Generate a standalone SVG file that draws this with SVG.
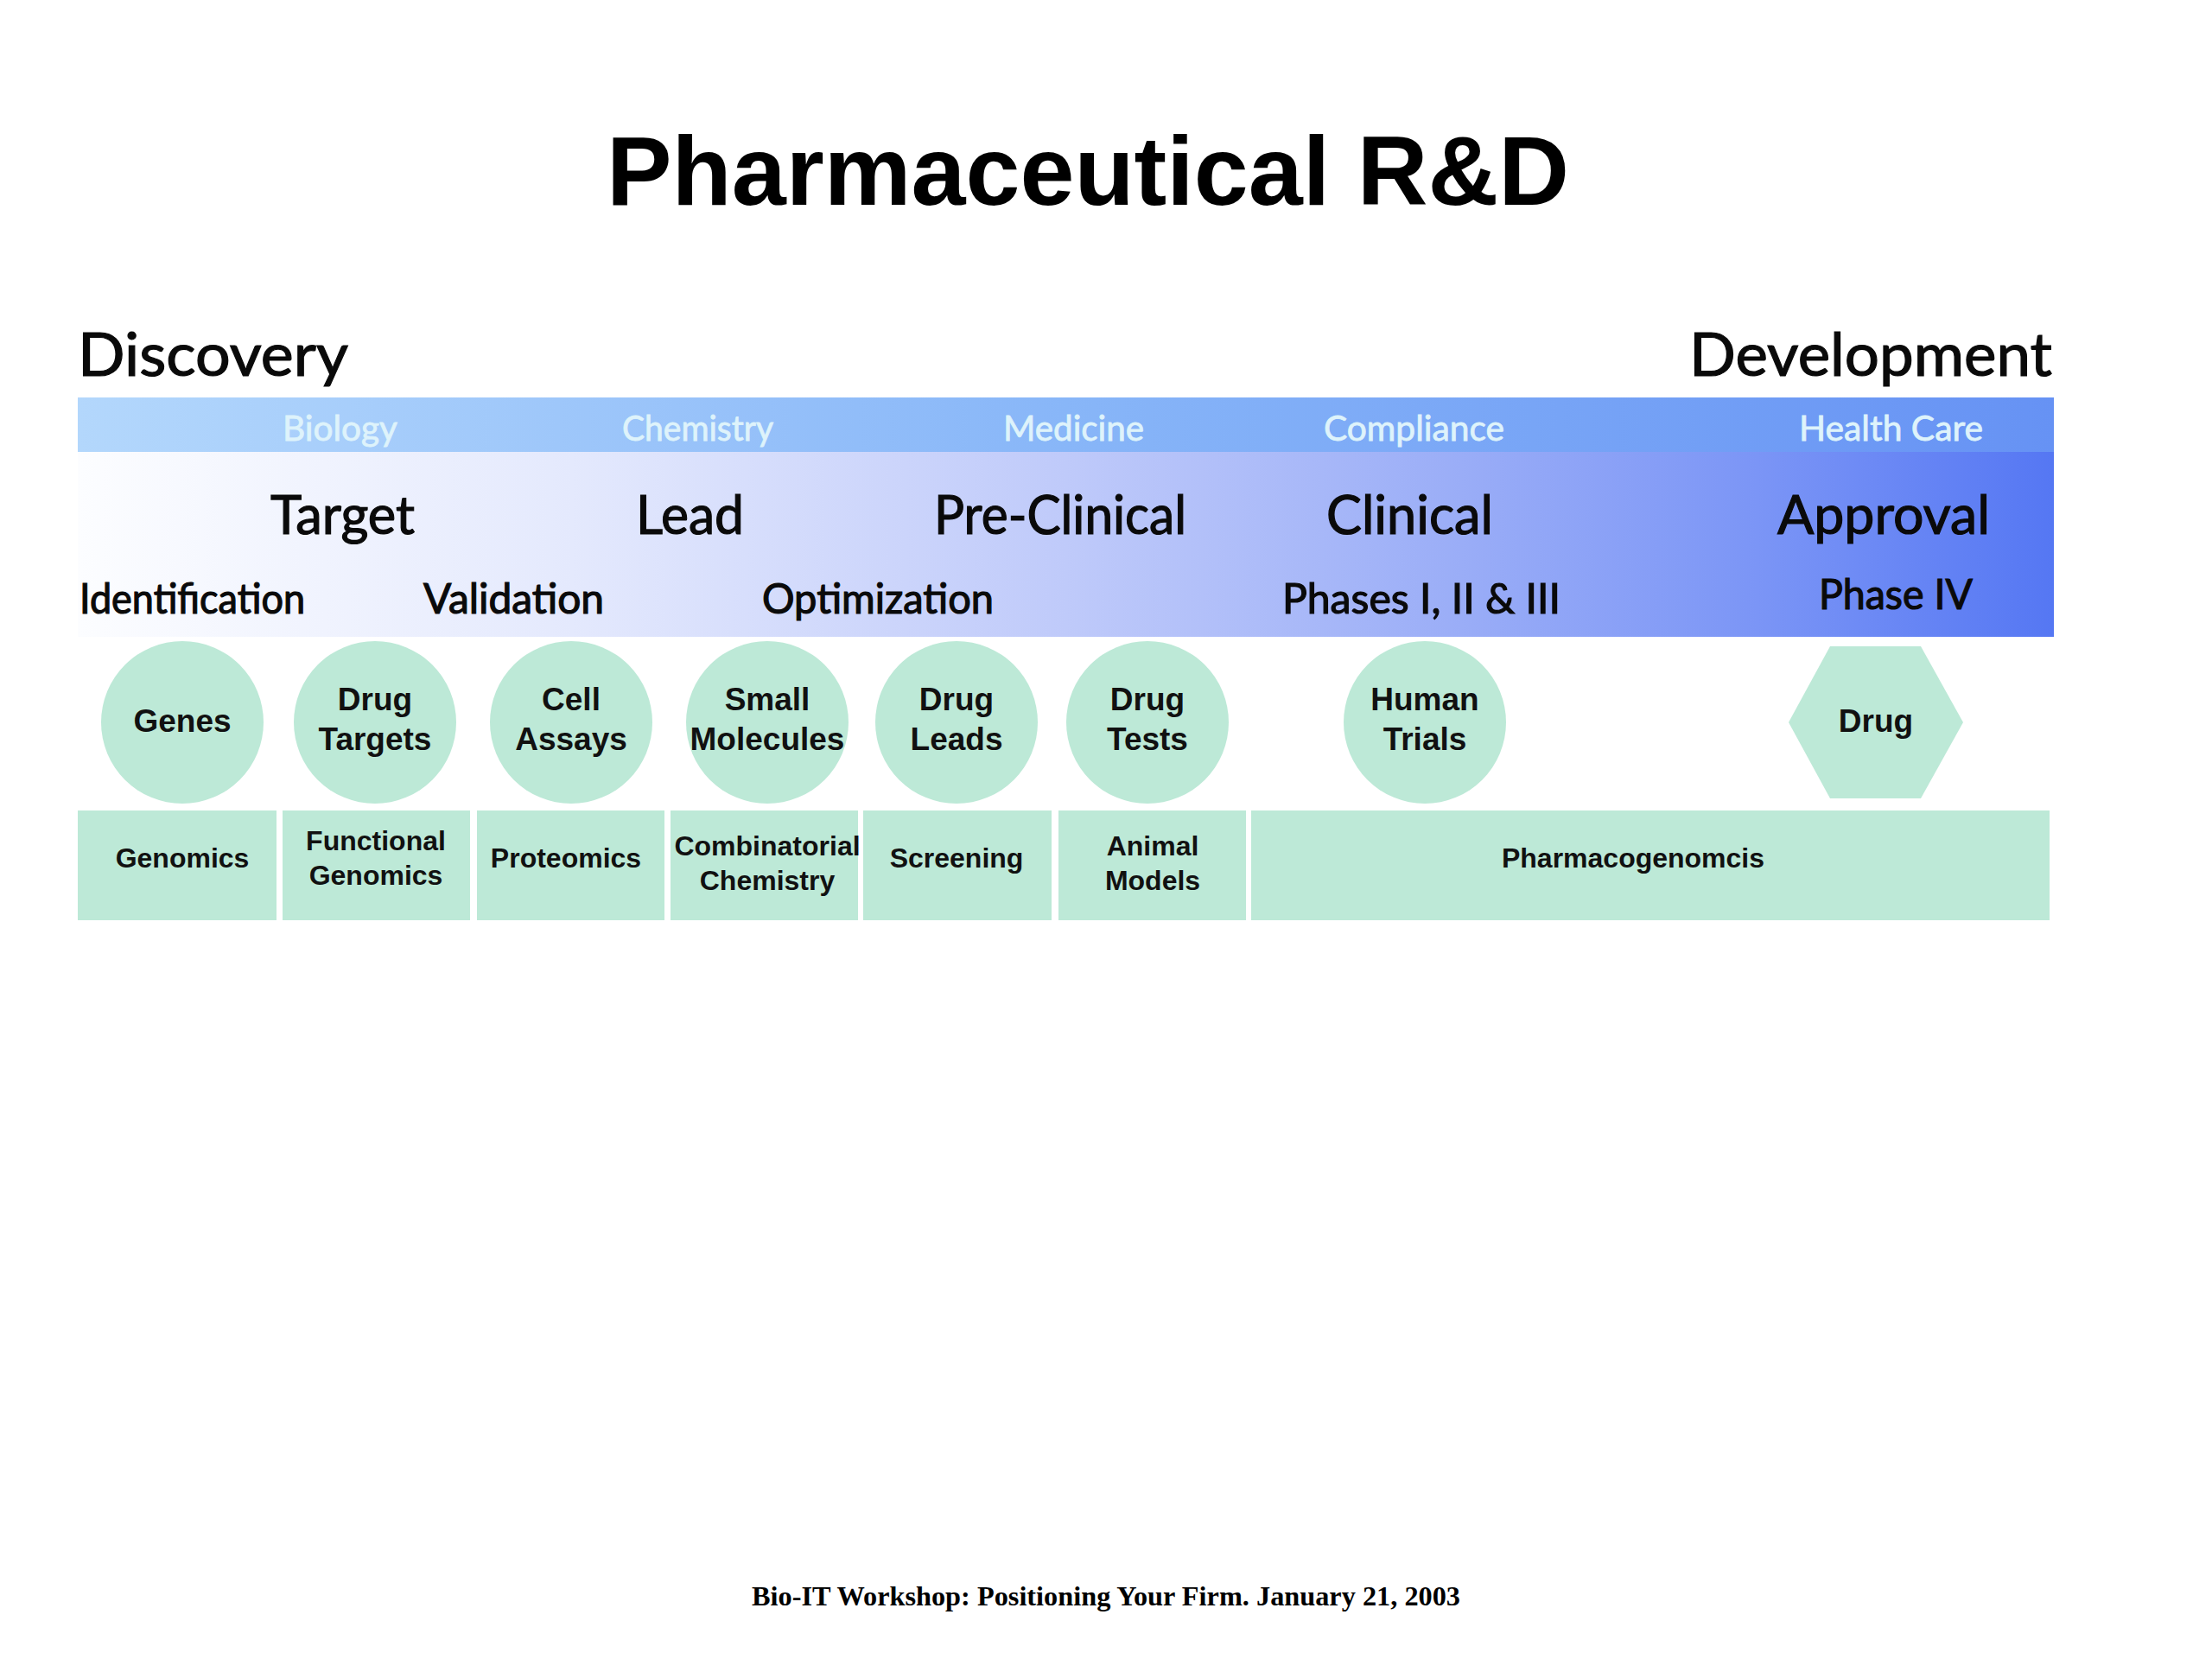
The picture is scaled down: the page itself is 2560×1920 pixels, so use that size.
<svg xmlns="http://www.w3.org/2000/svg" width="2560" height="1920" viewBox="0 0 2560 1920">
<style>
.fut{font-family:Lato,"Liberation Sans",sans-serif;fill:#0a0a0a;stroke:#0a0a0a;stroke-width:1.2px}
.strip{font-family:Lato,"Liberation Sans",sans-serif;fill:#def3fb;stroke:#def3fb;stroke-width:0.8px;font-size:40px}
.big{font-size:62px}
.mid{font-size:48px}
.lbl{font-family:"Liberation Sans",Arial,sans-serif;font-weight:bold;fill:#111;text-anchor:middle}
.node{font-size:37px}
.box{font-size:32px}
.g{fill:#bde9d7}
</style>
<defs>
<linearGradient id="stripG" x1="0" y1="0" x2="1" y2="0">
<stop offset="0" stop-color="#b3d7fc"/>
<stop offset="0.5" stop-color="#88b6f8"/>
<stop offset="1" stop-color="#6692f4"/>
</linearGradient>
<linearGradient id="bodyG" x1="0" y1="0" x2="1" y2="0">
<stop offset="0" stop-color="#fcfdff"/>
<stop offset="0.25" stop-color="#e4e9fd"/>
<stop offset="0.5" stop-color="#bfcafa"/>
<stop offset="0.7" stop-color="#9aadf7"/>
<stop offset="0.85" stop-color="#7b95f6"/>
<stop offset="1" stop-color="#5577f3"/>
</linearGradient>
</defs>
<rect width="2560" height="1920" fill="#ffffff"/>
<text x="1259" y="237" font-family="'Liberation Sans',Arial,sans-serif" font-weight="bold" font-size="114" text-anchor="middle" textLength="1114" lengthAdjust="spacingAndGlyphs" fill="#000">Pharmaceutical R&amp;D</text>

<g id="band">
<rect x="90" y="523" width="2287" height="214" fill="url(#bodyG)"/>
<rect x="90" y="460" width="2287" height="63" fill="url(#stripG)"/>
<text class="fut" x="90" y="435" font-size="70" textLength="313" lengthAdjust="spacingAndGlyphs">Discovery</text>
<text class="fut" x="1955" y="435" font-size="70" textLength="420" lengthAdjust="spacingAndGlyphs">Development</text>
<text class="strip" x="327" y="510" textLength="133" lengthAdjust="spacingAndGlyphs">Biology</text>
<text class="strip" x="720" y="510" textLength="175" lengthAdjust="spacingAndGlyphs">Chemistry</text>
<text class="strip" x="1161" y="510" textLength="163" lengthAdjust="spacingAndGlyphs">Medicine</text>
<text class="strip" x="1532" y="510" textLength="209" lengthAdjust="spacingAndGlyphs">Compliance</text>
<text class="strip" x="2082" y="510" textLength="213" lengthAdjust="spacingAndGlyphs">Health Care</text>
<text class="fut big" x="313" y="618" textLength="167" lengthAdjust="spacingAndGlyphs">Target</text>
<text class="fut big" x="736" y="618" textLength="125" lengthAdjust="spacingAndGlyphs">Lead</text>
<text class="fut big" x="1081" y="618" textLength="292" lengthAdjust="spacingAndGlyphs">Pre-Clinical</text>
<text class="fut big" x="1535" y="618" textLength="193" lengthAdjust="spacingAndGlyphs">Clinical</text>
<text class="fut big" x="2057" y="618" textLength="246" lengthAdjust="spacingAndGlyphs">Approval</text>
<text class="fut mid" x="92" y="710" textLength="261" lengthAdjust="spacingAndGlyphs">Identification</text>
<text class="fut mid" x="490" y="710" textLength="209" lengthAdjust="spacingAndGlyphs">Validation</text>
<text class="fut mid" x="882" y="710" textLength="268" lengthAdjust="spacingAndGlyphs">Optimization</text>
<text class="fut mid" x="1484" y="710" textLength="322" lengthAdjust="spacingAndGlyphs">Phases I, II &amp; III</text>
<text class="fut mid" x="2105" y="705" textLength="178" lengthAdjust="spacingAndGlyphs">Phase IV</text>
</g>

<g id="node-genes"><circle class="g" cx="211" cy="836" r="94"/><text class="lbl node" x="211" y="847">Genes</text></g>
<g id="node-drug-targets"><circle class="g" cx="434" cy="836" r="94"/><text class="lbl node" x="434" y="822">Drug</text><text class="lbl node" x="434" y="868">Targets</text></g>
<g id="node-cell-assays"><circle class="g" cx="661" cy="836" r="94"/><text class="lbl node" x="661" y="822">Cell</text><text class="lbl node" x="661" y="868">Assays</text></g>
<g id="node-small-molecules"><circle class="g" cx="888" cy="836" r="94"/><text class="lbl node" x="888" y="822">Small</text><text class="lbl node" x="888" y="868">Molecules</text></g>
<g id="node-drug-leads"><circle class="g" cx="1107" cy="836" r="94"/><text class="lbl node" x="1107" y="822">Drug</text><text class="lbl node" x="1107" y="868">Leads</text></g>
<g id="node-drug-tests"><circle class="g" cx="1328" cy="836" r="94"/><text class="lbl node" x="1328" y="822">Drug</text><text class="lbl node" x="1328" y="868">Tests</text></g>
<g id="node-human-trials"><circle class="g" cx="1649" cy="836" r="94"/><text class="lbl node" x="1649" y="822">Human</text><text class="lbl node" x="1649" y="868">Trials</text></g>
<g id="node-drug"><polygon class="g" points="2070,836 2118,748 2223,748 2272,836 2223,924 2118,924"/><text class="lbl node" x="2171" y="847">Drug</text></g>

<g id="box-genomics"><rect class="g" x="90" y="938" width="230" height="127"/><text class="lbl box" x="211" y="1004">Genomics</text></g>
<g id="box-functional-genomics"><rect class="g" x="327" y="938" width="217" height="127"/><text class="lbl box" x="435" y="984">Functional</text><text class="lbl box" x="435" y="1024">Genomics</text></g>
<g id="box-proteomics"><rect class="g" x="552" y="938" width="217" height="127"/><text class="lbl box" x="655" y="1004">Proteomics</text></g>
<g id="box-combinatorial-chemistry"><rect class="g" x="776" y="938" width="217" height="127"/><text class="lbl box" x="888" y="990">Combinatorial</text><text class="lbl box" x="888" y="1030">Chemistry</text></g>
<g id="box-screening"><rect class="g" x="999" y="938" width="218" height="127"/><text class="lbl box" x="1107" y="1004">Screening</text></g>
<g id="box-animal-models"><rect class="g" x="1225" y="938" width="217" height="127"/><text class="lbl box" x="1334" y="990">Animal</text><text class="lbl box" x="1334" y="1030">Models</text></g>
<g id="box-pharmacogenomcis"><rect class="g" x="1448" y="938" width="924" height="127"/><text class="lbl box" x="1890" y="1004">Pharmacogenomcis</text></g>

<g id="connectors"/>

<text x="1280" y="1858" font-family="'Liberation Serif','Times New Roman',serif" font-weight="bold" font-size="31" text-anchor="middle" textLength="820" lengthAdjust="spacingAndGlyphs" fill="#000">Bio-IT Workshop: Positioning Your Firm. January 21, 2003</text>
</svg>
